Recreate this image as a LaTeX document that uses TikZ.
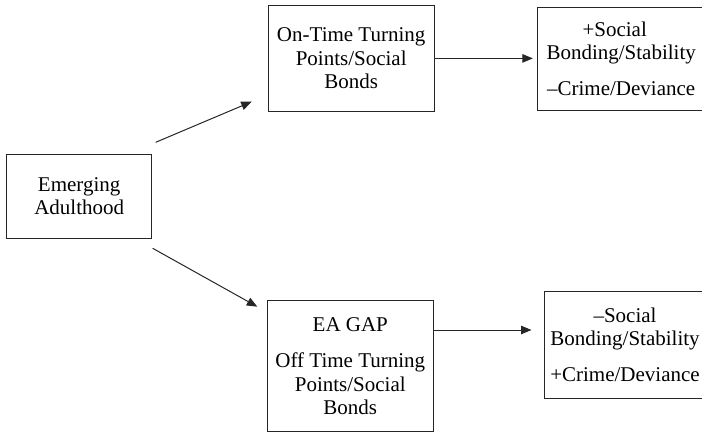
\documentclass[tikz,border=0pt]{standalone}
\usepackage{fontspec}
\setmainfont{Liberation Serif}
\usetikzlibrary{arrows.meta}

\begin{document}
\begin{tikzpicture}[x=1pt,y=-1pt,
  box/.style={draw=black!85,line width=1pt,rectangle,inner sep=0pt,align=center,
    font=\fontsize{21}{23.3}\selectfont},
  conn/.style={draw=black!85,line width=1pt,-{Triangle[length=10.5pt,width=8.5pt]}}]
  \useasboundingbox (0,0) rectangle (702,433);
  \clip (0,0) rectangle (702,433);
  \node[box,minimum width=145pt,minimum height=84.3pt] (adult) at ( 79.2,196.2)
    {Emerging\\Adulthood};
  \node[box,minimum width=165.7pt,minimum height=106.7pt] (ontime) at (351.2, 58.4)
    {On-Time Turning\\Points/Social\\Bonds};
  \node[box,minimum width=166pt,minimum height=131pt] (gap) at (350.3,366.2)
    {EA GAP\\[13pt]Off Time Turning\\Points/Social\\Bonds};
  \node[box,minimum width=167.7pt,minimum height=102.7pt] (posout) at (621.2, 58.7)
    {+Social\hspace*{13pt}\\Bonding/Stability\\[12pt]–Crime/Deviance};
  \node[box,minimum width=162pt,minimum height=107.3pt] (negout) at (625.0,344.7)
    {–Social\\Bonding/Stability\\[13pt]+Crime/Deviance};
  \coordinate (upstart) at (155.7,142.3);
  \coordinate (upend)   at (251.7,101.7);
  \coordinate (dnstart) at (152.7,248.3);
  \coordinate (dnend)   at (257.3,306.7);
  \coordinate (gapout)  at ([yshift=36.2pt]gap.east);
  \draw[conn] (upstart) -- (upend);
  \draw[conn] (dnstart) -- (dnend);
  \draw[conn,shorten >=4pt]  (ontime.east) -- (ontime.east -| posout.west);
  \draw[conn,shorten >=12pt] (gapout) -- (gapout -| negout.west);
\end{tikzpicture}
\end{document}
